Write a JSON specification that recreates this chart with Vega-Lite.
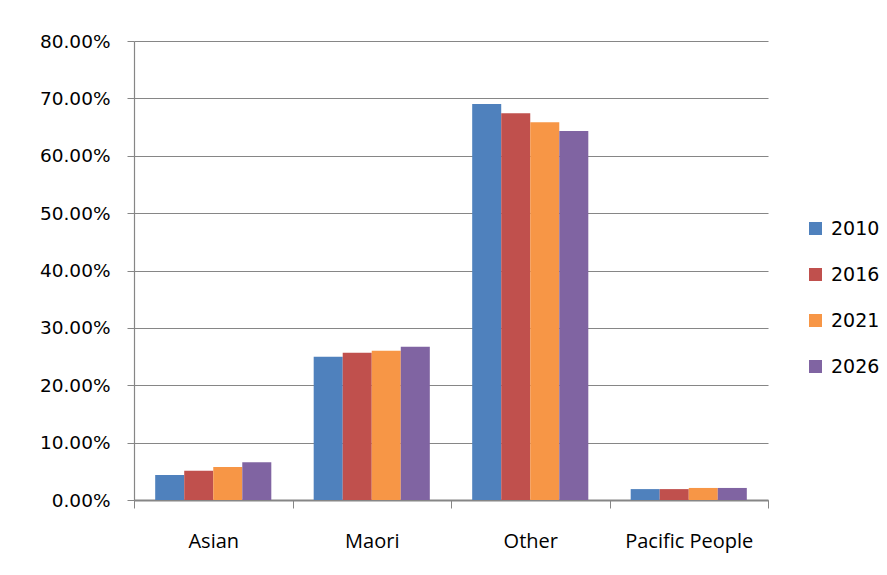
{
  "$schema": "https://vega.github.io/schema/vega-lite/v6.json",
  "autosize": {"type": "none"},
  "width": 634,
  "height": 459,
  "padding": {"left": 134, "top": 41, "right": 119, "bottom": 75},
  "background": "#ffffff",
  "config": {
    "view": {"stroke": null},
    "axis": {"domainColor": "#868686", "tickColor": "#868686", "gridColor": "#868686", "labelColor": "#000000"}
  },
  "data": {
    "values": [
      {"group": "Asian", "year": "2010", "share": 0.0436},
      {"group": "Asian", "year": "2016", "share": 0.051},
      {"group": "Asian", "year": "2021", "share": 0.0575},
      {"group": "Asian", "year": "2026", "share": 0.066},
      {"group": "Maori", "year": "2010", "share": 0.2495},
      {"group": "Maori", "year": "2016", "share": 0.2565},
      {"group": "Maori", "year": "2021", "share": 0.26},
      {"group": "Maori", "year": "2026", "share": 0.267},
      {"group": "Other", "year": "2010", "share": 0.69},
      {"group": "Other", "year": "2016", "share": 0.674},
      {"group": "Other", "year": "2021", "share": 0.6585},
      {"group": "Other", "year": "2026", "share": 0.643},
      {"group": "Pacific People", "year": "2010", "share": 0.019},
      {"group": "Pacific People", "year": "2016", "share": 0.019},
      {"group": "Pacific People", "year": "2021", "share": 0.021},
      {"group": "Pacific People", "year": "2026", "share": 0.021}
    ]
  },
  "mark": {"type": "bar"},
  "encoding": {
    "x": {
      "field": "group",
      "type": "nominal",
      "sort": null,
      "scale": {"paddingInner": 0, "paddingOuter": 0},
      "axis": {
        "title": null,
        "labelAngle": 0,
        "tickBand": "extent",
        "tickSize": 8,
        "domainWidth": 2,
        "labelPadding": 33,
        "labelFont": "Open Sans",
        "labelFontSize": 20,
        "labelBaseline": "middle"
      }
    },
    "xOffset": {"field": "year", "type": "nominal", "scale": {"paddingInner": 0, "paddingOuter": 0.73}},
    "y": {
      "field": "share",
      "type": "quantitative",
      "scale": {"domain": [0, 0.8], "nice": false},
      "axis": {
        "title": null,
        "values": [0, 0.1, 0.2, 0.3, 0.4, 0.5, 0.6, 0.7, 0.8],
        "format": ".2%",
        "tickSize": 7,
        "labelPadding": 17,
        "labelFont": "DejaVu Sans",
        "labelFontSize": 18.5,
        "grid": true,
        "gridWidth": 1.2,
        "gridOpacity": 1,
        "domainWidth": 1.2
      }
    },
    "color": {
      "field": "year",
      "type": "nominal",
      "scale": {"domain": ["2010", "2016", "2021", "2026"], "range": ["#4f81bd", "#c0504d", "#f79646", "#8064a2"]},
      "legend": {
        "title": null,
        "orient": "none",
        "legendX": 672,
        "legendY": 178,
        "symbolType": "square",
        "symbolSize": 169,
        "symbolStrokeWidth": 0,
        "labelFont": "DejaVu Sans",
        "labelFontSize": 19,
        "labelOffset": 6,
        "rowPadding": 26
      }
    }
  }
}
